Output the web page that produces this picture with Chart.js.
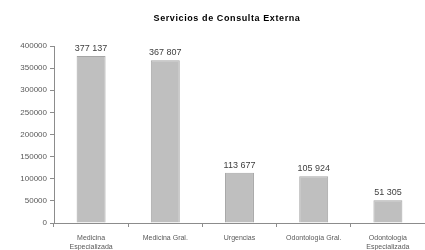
<!DOCTYPE html>
<html><head><meta charset="utf-8">
<script src="https://cdn.jsdelivr.net/npm/chart.js@4/dist/chart.umd.min.js"></script>
<style>html,body{margin:0;padding:0;background:#fff}#w{width:425px;height:250px}</style>
</head><body><div id="w"><canvas id="c" width="425" height="250"></canvas></div>
<script>
const title = "Servicios de Consulta Externa";
const categories = [["Medicina","Especializada"],"Medicina Gral.","Urgencias","Odontología Gral.",["Odontología","Especializada"]];
const values = [377137, 367807, 113677, 105924, 51305];
const valueLabels = ["377 137","367 807","113 677","105 924","51 305"];
const yTicks = [0,50000,100000,150000,200000,250000,300000,350000,400000];

const FONT = "'Liberation Sans',Arial,sans-serif";

const extras = {
  id:'extras',
  afterDatasetsDraw(chart){
    const ctx = chart.ctx;
    const meta = chart.getDatasetMeta(0);
    ctx.save();
    ctx.fillStyle = '#404040';
    ctx.font = "9px " + FONT;
    ctx.textAlign = 'center';
    ctx.textBaseline = 'bottom';
    meta.data.forEach((b,i)=>{ ctx.fillText(valueLabels[i], b.x, b.y - 3); });
    ctx.font = "bold 9px " + FONT;
    ctx.fillStyle = '#000';
    ctx.textBaseline = 'middle';
    if ('letterSpacing' in ctx) ctx.letterSpacing = '0.6px';
    ctx.fillText(title, 227, 19);
    ctx.restore();
  }
};

new Chart(document.getElementById('c'), {
  type:'bar',
  data:{ labels: categories, datasets:[{ data: values, backgroundColor:'#BFBFBF', borderColor:'#A6A6A6', borderWidth:1, barPercentage:0.39, categoryPercentage:1 }]},
  options:{
    responsive:false, animation:false,
    layout:{ padding:{ top:46, right:0, left:0, bottom:0 } },
    plugins:{ legend:{display:false}, tooltip:{enabled:false}, title:{display:false} },
    scales:{
      x:{
        grid:{ drawOnChartArea:false, tickLength:4, color:'#8C8C8C', offset:true },
        border:{ color:'#8C8C8C' },
        ticks:{ font:{ size:7, family:FONT }, color:'#595959', maxRotation:0, autoSkip:false, padding:7 },
        afterFit(s){ s.height = 27; }
      },
      y:{
        min:0, max:400000,
        afterBuildTicks(s){ s.ticks = yTicks.map(v=>({value:v})); },
        grid:{ drawOnChartArea:false, tickLength:4, color:'#8C8C8C' },
        border:{ color:'#8C8C8C' },
        ticks:{ font:{ size:8, family:FONT }, color:'#595959', padding:3, callback:v=>String(v) },
        afterFit(s){ s.width = 54; }
      }
    }
  },
  plugins:[extras]
});
</script></body></html>
